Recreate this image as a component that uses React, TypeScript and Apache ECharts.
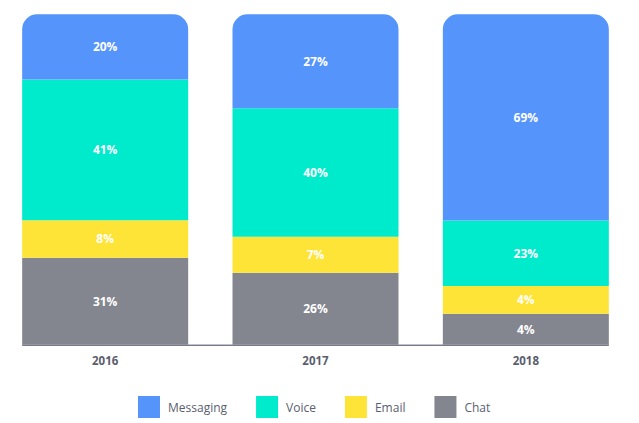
import React, { useEffect, useRef } from "react";
import * as echarts from "echarts";

const years = ["2016", "2017", "2018"];
const seriesNames = ["Chat", "Email", "Voice", "Messaging"];
// Printed percentages (labels)
const chatLabels = [31, 26, 4];
const emailLabels = [8, 7, 4];
const voiceLabels = [41, 40, 23];
const messagingLabels = [20, 27, 69];
// Segment heights as drawn in the picture (share of full bar)
const chatHeights = [26.3, 21.8, 9.4];
const emailHeights = [11.4, 10.9, 8.4];
const voiceHeights = [42.6, 38.9, 19.8];
const messagingHeights = [19.7, 28.4, 62.4];

const colors: Record<string, string> = {
  Messaging: "#5594FA",
  Voice: "#00EACC",
  Email: "#FFE438",
  Chat: "#84868F",
};

const FONT = "'Open Sans', 'Noto Sans', sans-serif";

export default function App() {
  const ref = useRef<HTMLDivElement>(null);
  useEffect(() => {
    if (!ref.current) return;
    const chart = echarts.init(ref.current, undefined, { renderer: "svg" });
    const heights = [chatHeights, emailHeights, voiceHeights, messagingHeights];
    const labels = [chatLabels, emailLabels, voiceLabels, messagingLabels];
    const barWidth = 166;
    chart.setOption({
      animation: false,
      grid: { left: 0, right: 8, top: 14.3, bottom: 78.3 },
      xAxis: {
        type: "category",
        data: years,
        axisLine: { show: false },
        axisTick: { show: false },
        axisLabel: {
          color: "#5B5E6E",
          fontWeight: "bold",
          fontSize: 11.5,
          fontFamily: FONT,
          margin: 10,
        },
      },
      yAxis: { type: "value", min: 0, max: 100, show: false },
      legend: {
        data: ["Messaging", "Voice", "Email", "Chat"],
        top: 391,
        left: 133,
        itemWidth: 22,
        itemHeight: 22,
        itemGap: 29,
        icon: "rect",
        textStyle: { color: "#5A5E70", fontSize: 12, fontFamily: FONT, padding: [0, 0, 0, 3] },
      },
      series: seriesNames.map((name, i) => ({
        name,
        type: "bar",
        stack: "total",
        barWidth,
        data: heights[i].map((v) => v),
        itemStyle: {
          color: colors[name],
          borderRadius: name === "Messaging" ? [15, 15, 0, 0] : 0,
        },
        label: {
          show: true,
          position: "inside",
          color: "#ffffff",
          fontWeight: "bold",
          fontSize: 12,
          fontFamily: FONT,
          formatter: (p: any) => labels[i][p.dataIndex] + "%",
        },
      })),
    });
    const first = chart.convertToPixel({ gridIndex: 0 }, [0, 0]) as number[];
    const last = chart.convertToPixel({ gridIndex: 0 }, [years.length - 1, 0]) as number[];
    chart.setOption({
      graphic: [
        {
          type: "line",
          z: -1,
          shape: {
            x1: first[0] - barWidth / 2,
            y1: first[1] + 0.5,
            x2: last[0] + barWidth / 2,
            y2: first[1] + 0.5,
          },
          style: { stroke: "#3B3F55", lineWidth: 1 },
        },
      ],
    });
    return () => chart.dispose();
  }, []);
  return <div ref={ref} style={{ width: 639, height: 423, position: "absolute", left: 0, top: 0 }} />;
}
